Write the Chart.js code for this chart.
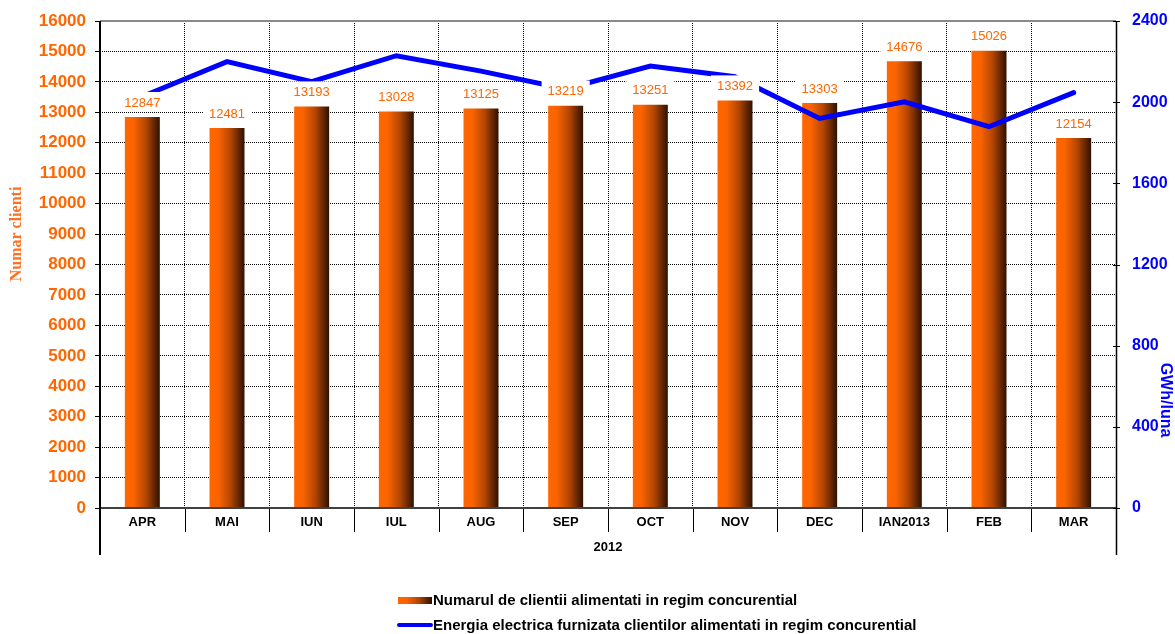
<!DOCTYPE html>
<html>
<head>
<meta charset="utf-8">
<script src="https://cdn.jsdelivr.net/npm/chart.js@4.4.0/dist/chart.umd.min.js"></script>
<style>
html,body{margin:0;padding:0;background:#fff;}
canvas{display:block;}
</style>
</head>
<body>
<canvas id="c" width="1175" height="634"></canvas>
<script>
const categories = ['APR','MAI','IUN','IUL','AUG','SEP','OCT','NOV','DEC','IAN2013','FEB','MAR'];
const clientCounts = [12847,12481,13193,13028,13125,13219,13251,13392,13303,14676,15026,12154];
const energyGWh = [2028,2200,2101,2229,2153,2065,2178,2125,1920,2002,1879,2047];
const groupLabel = '2012';
const barLabel = 'Numarul de clientii alimentati in regim concurential';
const lineLabel = 'Energia electrica furnizata clientilor alimentati in regim concurential';
const leftTitle = 'Numar clienti';
const rightTitle = 'GWh/luna';
const leftMax = 16000, leftStep = 1000;
const rightMax = 2400, rightStep = 400;

const ORANGE = '#FF6600';
const BLUE = '#0000FF';
const BAR_PCT = 0.413;
const SANS = '"Liberation Sans", Arial, sans-serif';

function barGradient(g, x0, x1) {
  const gr = g.createLinearGradient(x0, 0, x1, 0);
  gr.addColorStop(0, '#FF6600');
  gr.addColorStop(0.25, '#FA6400');
  gr.addColorStop(0.6, '#B44600');
  gr.addColorStop(1, '#2E1100');
  return gr;
}

function noPad(s) { s.paddingTop = 0; s.paddingBottom = 0; }

const decor = {
  id: 'decor',
  beforeDatasetsDraw(chart) {
    const {ctx, chartArea: a} = chart;
    ctx.save();
    ctx.strokeStyle = '#8a8a8a';
    ctx.lineWidth = 2;
    ctx.beginPath(); ctx.moveTo(a.left, a.top); ctx.lineTo(a.right, a.top); ctx.stroke();
    ctx.restore();
  },
  afterDatasetsDraw(chart) {
    const {ctx} = chart;
    const meta = chart.getDatasetMeta(0);
    ctx.save();
    ctx.font = '13px ' + SANS;
    ctx.textAlign = 'center';
    ctx.textBaseline = 'middle';
    meta.data.forEach((el, i) => {
      const txt = String(clientCounts[i]);
      const tw = ctx.measureText(txt).width;
      const cy = el.y - 15;
      ctx.fillStyle = '#fff';
      ctx.fillRect(el.x - tw/2 - 6, cy - 10, tw + 12, 20);
      ctx.fillStyle = ORANGE;
      ctx.fillText(txt, el.x, cy + 1);
    });
    ctx.restore();
  },
  afterDraw(chart) {
    const {ctx, chartArea: a} = chart;
    const xs = chart.scales.x;
    const n = categories.length;
    ctx.save();
    ctx.strokeStyle = '#000';
    ctx.lineWidth = 1;
    for (let i = 1; i < n; i++) {
      const x = Math.round((xs.getPixelForValue(i-1) + xs.getPixelForValue(i)) / 2) + 0.5;
      ctx.beginPath(); ctx.moveTo(x, a.bottom); ctx.lineTo(x, a.bottom + 24); ctx.stroke();
    }
    ctx.strokeStyle = '#404040';
    ctx.lineWidth = 2;
    ctx.beginPath(); ctx.moveTo(a.left, a.bottom); ctx.lineTo(a.right, a.bottom); ctx.stroke();
    ctx.strokeStyle = '#000';
    ctx.lineWidth = 2;
    ctx.beginPath(); ctx.moveTo(a.left, a.top); ctx.lineTo(a.left, a.bottom + 47); ctx.stroke();
    ctx.lineWidth = 1.5;
    ctx.beginPath(); ctx.moveTo(a.right + 0.5, a.top); ctx.lineTo(a.right + 0.5, a.bottom + 47); ctx.stroke();
    const y1 = chart.scales.y1;
    ctx.lineWidth = 1;
    y1.ticks.forEach(t => {
      const y = Math.round(y1.getPixelForValue(t.value)) + 0.5;
      ctx.beginPath(); ctx.moveTo(a.right - 3, y); ctx.lineTo(a.right + 4, y); ctx.stroke();
    });
    ctx.fillStyle = '#000';
    ctx.font = 'bold 13px ' + SANS;
    ctx.textAlign = 'center';
    ctx.textBaseline = 'middle';
    ctx.fillText(groupLabel, (a.left + a.right) / 2, a.bottom + 39);
    ctx.save();
    ctx.translate(17, 234);
    ctx.rotate(-Math.PI / 2);
    ctx.font = 'bold 16px "Liberation Serif", "Times New Roman", serif';
    ctx.fillStyle = '#FF7020';
    ctx.fillText(leftTitle, 0, 0);
    ctx.restore();
    ctx.save();
    ctx.translate(1165, 400);
    ctx.rotate(Math.PI / 2);
    ctx.font = 'bold 16px ' + SANS;
    ctx.fillStyle = BLUE;
    ctx.fillText(rightTitle, 0, 0);
    ctx.restore();
    ctx.fillStyle = barGradient(ctx, 398, 432);
    ctx.fillRect(398, 597, 34, 7);
    ctx.strokeStyle = BLUE;
    ctx.lineWidth = 4;
    ctx.lineCap = 'round';
    ctx.beginPath(); ctx.moveTo(399, 625); ctx.lineTo(431, 625); ctx.stroke();
    ctx.fillStyle = '#000';
    ctx.font = 'bold 15px ' + SANS;
    ctx.textAlign = 'left';
    ctx.fillText(chart.data.datasets[0].label, 433, 601);
    ctx.fillText(chart.data.datasets[1].label, 433, 626);
    ctx.restore();
  }
};

new Chart(document.getElementById('c'), {
  data: {
    labels: categories,
    datasets: [
      {
        type: 'bar',
        label: barLabel,
        data: clientCounts,
        yAxisID: 'y',
        order: 2,
        barPercentage: BAR_PCT,
        categoryPercentage: 1,
        borderWidth: 0,
        backgroundColor: (c) => {
          const chart = c.chart;
          const xs = chart.scales && chart.scales.x;
          if (!chart.chartArea || !xs || c.type !== 'data') return ORANGE;
          const cx = xs.getPixelForValue(c.dataIndex);
          const w = xs.width / categories.length * BAR_PCT;
          return barGradient(chart.ctx, cx - w/2, cx + w/2);
        }
      },
      {
        type: 'line',
        label: lineLabel,
        data: energyGWh,
        yAxisID: 'y1',
        order: 1,
        borderColor: BLUE,
        borderWidth: 5,
        pointRadius: 0,
        tension: 0,
        fill: false,
        borderCapStyle: 'round',
        borderJoinStyle: 'miter'
      }
    ]
  },
  options: {
    responsive: false,
    devicePixelRatio: 1,
    animation: false,
    layout: { padding: { top: 21, left: 0, right: 0, bottom: 0 } },
    plugins: { legend: { display: false }, tooltip: { enabled: false } },
    scales: {
      x: {
        type: 'category',
        position: 'bottom',
        afterFit: (s) => { s.height = 126; s.paddingLeft = 0; s.paddingRight = 0; },
        grid: { offset: true, color: '#000', lineWidth: 1, drawTicks: false },
        border: { display: false, dash: [1, 1] },
        ticks: { color: '#000', font: { family: SANS, size: 13, weight: 'bold' }, padding: 7, maxRotation: 0, autoSkip: false }
      },
      y: {
        position: 'left',
        min: 0, max: leftMax,
        afterFit: (s) => { s.width = 100; noPad(s); },
        grid: { color: '#000', lineWidth: 1, tickLength: 5, tickColor: '#000', tickBorderDash: [] },
        border: { display: false, dash: [1, 1] },
        ticks: { stepSize: leftStep, color: ORANGE, font: { family: SANS, size: 17, weight: 'bold' }, padding: 9,
                 callback: (v) => String(v) }
      },
      y1: {
        position: 'right',
        min: 0, max: rightMax,
        afterFit: (s) => { s.width = 59; noPad(s); },
        grid: { drawOnChartArea: false, drawTicks: false },
        border: { display: false },
        ticks: { stepSize: rightStep, color: BLUE, font: { family: SANS, size: 16, weight: 'bold' }, padding: 16,
                 callback: (v) => String(v) }
      }
    }
  },
  plugins: [decor]
});
</script>
</body>
</html>
